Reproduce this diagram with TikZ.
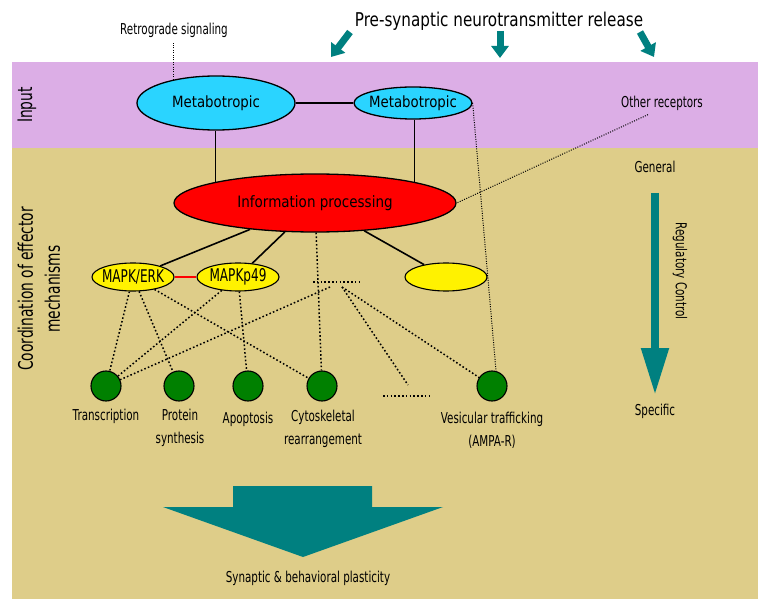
\documentclass[tikz,border=0pt]{standalone}
\usepackage{fontspec}
\setmainfont{DejaVu Sans}[FakeStretch=0.8]
\newfontfamily\narrowfont{DejaVu Sans}[FakeStretch=0.69]
\newfontfamily\boxfont{DejaVu Sans}[FakeStretch=0.86]
\usetikzlibrary{arrows.meta,shapes.geometric}

\definecolor{inputband}{RGB}{220,174,230}
\definecolor{effband}{RGB}{222,205,137}
\definecolor{tealflow}{RGB}{0,128,128}
\definecolor{metacyan}{RGB}{42,212,255}
\definecolor{effgreen}{RGB}{0,128,0}

\newcommand{\fs}[2]{\fontsize{#1}{#2}\selectfont}

\tikzset{
  recep/.style={ellipse, draw, line width=1.3pt, fill=metacyan, inner sep=0pt,
    label={[font=\boxfont\fs{15.5}{18}]center:#1}},
  hub/.style={ellipse, draw, line width=1.3pt, fill=red, inner sep=0pt,
    minimum width=282pt, minimum height=58pt, font=\boxfont\fs{15.7}{18}},
  kinase/.style={ellipse, draw, line width=1.1pt, fill=yellow, inner sep=0pt,
    minimum width=82pt, minimum height=28pt,
    label={[font=\narrowfont\fs{17.5}{20}]center:#1}},
  effector/.style={circle, draw, line width=1.1pt, fill=effgreen,
    minimum size=30pt, inner sep=0pt},
  % placed at the baseline of the last line
  lbl/.style={font=\narrowfont\fs{15}{23.5}, align=center, anchor=base, inner sep=0pt},
  note/.style={font=\narrowfont\fs{15}{18}},
  sidelbl/.style={font=\narrowfont\fs{20}{27}, align=center},
  link/.style={line width=1.6pt},
  weak/.style={line width=1.5pt, dash pattern=on 1.6pt off 2.2pt},
  faint/.style={line width=1pt, dash pattern=on 1pt off 1.4pt},
  flow/.style={tealflow, line width=7pt, -{Triangle[width=17pt,length=12pt]}},
}

\begin{document}
\begin{tikzpicture}[x=1pt,y=-1pt]
\useasboundingbox (0,0) rectangle (758,599);

% bands
\fill[inputband] (12,62) rectangle (758,148);
\fill[effband] (12,148) rectangle (758,599);

% side headings
\node[sidelbl, rotate=90] (inlbl) at (27,105) {Input};
\node[sidelbl, rotate=90] (coordlbl) at (39,289) {Coordination of effector\\mechanisms};

% top: release
\node[font=\fs{19}{22}, anchor=base] (release) at (499,27) {Pre-synaptic neurotransmitter release};
\coordinate (rl0) at (350,32);  \coordinate (rl1) at (331,57);
\coordinate (rm0) at (500,31);  \coordinate (rm1) at (500,58);
\coordinate (rr0) at (640,32);  \coordinate (rr1) at (654,57);
\draw[flow] (rl0) -- (rl1);
\draw[flow] (rm0) -- (rm1);
\draw[flow] (rr0) -- (rr1);

\node[note, anchor=base] (retro) at (174,35) {Retrograde signaling};
\node[note, anchor=base] (other) at (662,108) {Other receptors};

% receptors and processing
\node[recep=Metabotropic, minimum width=158pt, minimum height=54pt] (m1) at (216,103) {};
\node[recep=Metabotropic, minimum width=118pt, minimum height=32pt] (m2) at (413,103) {};
\node[hub] (info) at (315,203) {Information processing};

\draw[link] (m1) -- (m2);
\draw[link] (m1.south -| info.168) -- (info.168);
\draw[link] (m2.south -| info.12) -- (info.12);
\draw[faint] (m1.151) -- (m1.151 |- retro.south);
\draw[faint] ([xshift=-14pt]other.south) -- (info.east);

% kinases
\node[kinase=MAPK/ERK] (erk) at (133,277) {};
\node[kinase=MAPKp49] (p49) at (238,277) {};
\node[kinase=] (blank) at (446,277) {};
\draw[red, line width=1.2pt] (erk) -- (p49);
\draw[link] (info) -- (erk);
\draw[link] (info) -- (p49);
\draw[link] (info) -- (blank);

% effectors
\node[effector] (c1) at (106,386) {};
\node[effector] (c2) at (179,386) {};
\node[effector] (c3) at (248,386) {};
\node[effector] (c4) at (322,386) {};
\node[effector] (c5) at (492,386) {};

\node[lbl] (t1) at (106,420) {Transcription};
\node[lbl] (t2) at (180,443.5) {Protein\\synthesis};
\node[lbl] (t3) at (248,423) {Apoptosis};
\node[lbl] (t4) at (323,444.5) {Cytoskeletal\\rearrangement};
\node[lbl] (t5) at (492,446.5) {Vesicular trafficking\\(AMPA-R)};

% unnamed pathways
\coordinate (dA) at (313,282);  \coordinate (dB) at (359,282);
\coordinate (hubL) at (330,287); \coordinate (hubR) at (342,287);
\coordinate (dC) at (383,396);  \coordinate (dD) at (429,396);
\coordinate (dEnd) at (408,385);
\draw[weak] (dA) -- (dB);
\draw[weak] (dC) -- (dD);

% dotted links
\draw[weak] (erk) -- (c1);
\draw[weak] (erk) -- (c2);
\draw[weak] (erk) -- (c4);
\draw[weak] (p49) -- (c1);
\draw[weak] (p49) -- (c3);
\draw[weak] (info) -- (c4);
\draw[weak] (hubL) -- (c1);
\draw[weak] (hubR) -- (dEnd);
\draw[weak] (hubR) -- (c5);
\draw[faint] (m2.east) -- (c5.75);

% regulatory control
\node[note, anchor=base] (general) at (655,173) {General};
\node[note, anchor=base] (specific) at (655,415) {Specific};
\coordinate (rc0) at (655,193); \coordinate (rc1) at (655,395);
\draw[tealflow, line width=8pt, -{Triangle[width=26pt,length=47pt]}] (rc0) -- (rc1);
\node[note, rotate=-90] (regctl) at (680,271) {Regulatory Control};

% outcome
\fill[tealflow] (233,486) -- (372,486) -- (372,507) -- (443,507) -- (303,557)
  -- (163,507) -- (233,507) -- cycle;
\node[note, anchor=base] (outcome) at (308,582) {Synaptic \& behavioral plasticity};
\end{tikzpicture}
\end{document}
